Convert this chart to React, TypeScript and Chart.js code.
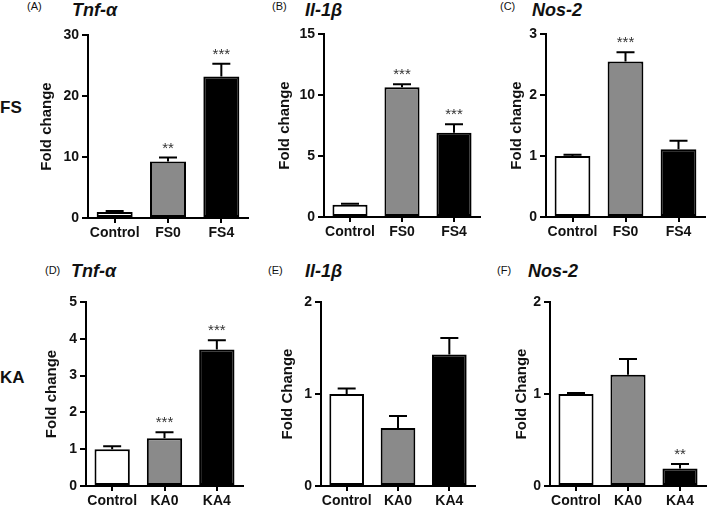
import React, { useEffect, useRef } from "react";
import { Chart, registerables } from "chart.js";

Chart.register(...registerables);

const FONT = '"Liberation Sans", Arial, Helvetica, sans-serif';

// ---- data ----
const fsGroups = ["Control", "FS0", "FS4"];
const kaGroups = ["Control", "KA0", "KA4"];

const tnfFS = [1.0, 9.25, 23.2];
const tnfFSSem = [0.15, 0.65, 2.1];
const tnfFSStars = ["", "**", "***"];

const il1bFS = [1.0, 10.63, 6.91];
const il1bFSSem = [0.08, 0.25, 0.7];
const il1bFSStars = ["", "***", "***"];

const nos2FS = [1.0, 2.55, 1.11];
const nos2FSSem = [0.02, 0.15, 0.14];
const nos2FSStars = ["", "***", ""];

const tnfKA = [1.0, 1.3, 3.71];
const tnfKASem = [0.08, 0.16, 0.25];
const tnfKAStars = ["", "***", "***"];

const il1bKA = [1.0, 0.63, 1.43];
const il1bKASem = [0.06, 0.13, 0.18];
const il1bKAStars = ["", "", ""];

const nos2KA = [1.0, 1.21, 0.19];
const nos2KASem = [0.01, 0.17, 0.05];
const nos2KAStars = ["", "", "**"];

const barColors = ["#ffffff", "#8a8a8a", "#000000"];

// ---- error bar + significance plugin ----
const errorBarPlugin = {
  id: "errorBars",
  afterDatasetsDraw(chart: any, _args: any, opts: any) {
    const { ctx } = chart;
    const y = chart.scales.y;
    const meta = chart.getDatasetMeta(0);
    const vals = chart.data.datasets[0].data as number[];
    const sem: number[] = opts.sem || [];
    const stars: string[] = opts.stars || [];
    ctx.save();
    meta.data.forEach((bar: any, i: number) => {
      const v = vals[i];
      const yTop = y.getPixelForValue(v);
      const yErr = y.getPixelForValue(v + (sem[i] || 0));
      ctx.strokeStyle = "#000";
      ctx.lineWidth = 2;
      ctx.beginPath();
      ctx.moveTo(bar.x, yTop);
      ctx.lineTo(bar.x, yErr);
      ctx.moveTo(bar.x - 9, yErr);
      ctx.lineTo(bar.x + 9, yErr);
      ctx.stroke();
      const s = stars[i];
      if (s) {
        ctx.fillStyle = "#333";
        ctx.font = `15px ${FONT}`;
        ctx.textAlign = "center";
        ctx.textBaseline = "alphabetic";
        ctx.fillText(s, bar.x, yErr - 5);
      }
    });
    ctx.restore();
  },
};

type PanelProps = {
  labels: string[];
  values: number[];
  sem: number[];
  stars: string[];
  yMax: number;
  step: number;
  yTitle: string;
  axisLeft: number;
  axisRight: number;
  plotTop: number;
  plotBottom: number;
  titleDist: number;
};

function Panel(p: PanelProps) {
  const ref = useRef<HTMLCanvasElement | null>(null);
  const yWidth = p.titleDist + 17;
  const canvasLeft = p.axisLeft - yWidth;
  const padRight = 7;
  const canvasWidth = p.axisRight - canvasLeft + padRight;
  const canvasTop = p.plotTop - 12;
  const xHeight = 32;
  const canvasHeight = p.plotBottom + xHeight - canvasTop;

  useEffect(() => {
    if (!ref.current) return;
    const chart = new Chart(ref.current, {
      type: "bar",
      data: {
        labels: p.labels,
        datasets: [
          {
            data: p.values,
            backgroundColor: barColors,
            borderColor: "#000",
            borderWidth: 2,
            borderSkipped: false,
            barPercentage: 0.675,
            categoryPercentage: 1,
          },
        ],
      },
      options: {
        responsive: false,
        animation: false,
        devicePixelRatio: 1,
        layout: { padding: { left: 0, top: p.plotTop - canvasTop, right: padRight, bottom: 0 } },
        plugins: {
          legend: { display: false },
          tooltip: { enabled: false },
          title: { display: false },
          errorBars: { sem: p.sem, stars: p.stars },
        } as any,
        scales: {
          x: {
            afterFit: (s: any) => {
              s.height = xHeight;
            },
            grid: {
              display: true,
              offset: false,
              drawOnChartArea: false,
              drawTicks: true,
              tickLength: 5,
              color: "#000",
              lineWidth: 2,
            },
            border: { display: true, color: "#000", width: 2 },
            ticks: {
              color: "#111",
              padding: 2,
              maxRotation: 0,
              autoSkip: false,
              font: { family: FONT, size: 14, weight: "bold" },
            },
          },
          y: {
            min: 0,
            max: p.yMax,
            afterFit: (s: any) => {
              s.width = yWidth;
            },
            grid: {
              display: true,
              drawOnChartArea: false,
              drawTicks: true,
              tickLength: 6,
              color: "#000",
              lineWidth: 2,
            },
            border: { display: true, color: "#000", width: 2 },
            ticks: {
              stepSize: p.step,
              color: "#111",
              padding: 3,
              font: { family: FONT, size: 14, weight: "bold" },
            },
            title: {
              display: true,
              text: p.yTitle,
              color: "#111",
              padding: { top: 8, bottom: 0 },
              font: { family: FONT, size: 15, weight: "bold" },
            },
          },
        },
      },
      plugins: [errorBarPlugin],
    } as any);
    return () => chart.destroy();
  }, []);

  return (
    <canvas
      ref={ref}
      width={canvasWidth}
      height={canvasHeight}
      style={{
        position: "absolute",
        left: canvasLeft,
        top: canvasTop,
        width: canvasWidth,
        height: canvasHeight,
      }}
    />
  );
}

const letterStyle = (left: number, top: number): React.CSSProperties => ({
  position: "absolute",
  left,
  top,
  fontFamily: FONT,
  fontSize: 11,
  lineHeight: "11px",
  color: "#111",
  whiteSpace: "nowrap",
});

const geneStyle = (left: number, top: number): React.CSSProperties => ({
  position: "absolute",
  left,
  top,
  fontFamily: FONT,
  fontSize: 18,
  fontWeight: "bold",
  fontStyle: "italic",
  lineHeight: "18px",
  color: "#111",
  whiteSpace: "nowrap",
});

const rowStyle = (left: number, top: number): React.CSSProperties => ({
  position: "absolute",
  left,
  top,
  fontFamily: FONT,
  fontSize: 17,
  fontWeight: "bold",
  lineHeight: "17px",
  color: "#111",
  whiteSpace: "nowrap",
});

export default function App() {
  return (
    <div
      style={{
        position: "absolute",
        left: 0,
        top: 0,
        width: 709,
        height: 505,
        background: "#fff",
        overflow: "hidden",
      }}
    >
      <div style={rowStyle(0, 99)}>FS</div>
      <div style={rowStyle(0, 369)}>KA</div>

      <div style={letterStyle(27, 1)}>(A)</div>
      <div style={geneStyle(72, 1)}>Tnf-α</div>
      <div style={letterStyle(272, 1)}>(B)</div>
      <div style={geneStyle(305, 1)}>Il-1β</div>
      <div style={letterStyle(500, 1)}>(C)</div>
      <div style={geneStyle(532, 1)}>Nos-2</div>

      <div style={letterStyle(45, 265)}>(D)</div>
      <div style={geneStyle(71, 262)}>Tnf-α</div>
      <div style={letterStyle(268, 265)}>(E)</div>
      <div style={geneStyle(305, 262)}>Il-1β</div>
      <div style={letterStyle(497, 265)}>(F)</div>
      <div style={geneStyle(528, 262)}>Nos-2</div>

      <Panel labels={fsGroups} values={tnfFS} sem={tnfFSSem} stars={tnfFSStars} yMax={30} step={10}
        yTitle="Fold change" axisLeft={88} axisRight={248} plotTop={35} plotBottom={218} titleDist={41} />
      <Panel labels={fsGroups} values={il1bFS} sem={il1bFSSem} stars={il1bFSStars} yMax={15} step={5}
        yTitle="Fold change" axisLeft={324} axisRight={480} plotTop={34} plotBottom={217} titleDist={39} />
      <Panel labels={fsGroups} values={nos2FS} sem={nos2FSSem} stars={nos2FSStars} yMax={3} step={1}
        yTitle="Fold change" axisLeft={546} axisRight={705} plotTop={34} plotBottom={217} titleDist={29} />

      <Panel labels={kaGroups} values={tnfKA} sem={tnfKASem} stars={tnfKAStars} yMax={5} step={1}
        yTitle="Fold change" axisLeft={86} axisRight={243} plotTop={302} plotBottom={486} titleDist={34} />
      <Panel labels={kaGroups} values={il1bKA} sem={il1bKASem} stars={il1bKAStars} yMax={2} step={1}
        yTitle="Fold Change" axisLeft={321} axisRight={475} plotTop={302} plotBottom={486} titleDist={33} />
      <Panel labels={kaGroups} values={nos2KA} sem={nos2KASem} stars={nos2KAStars} yMax={2} step={1}
        yTitle="Fold Change" axisLeft={550} axisRight={706} plotTop={302} plotBottom={486} titleDist={28} />
    </div>
  );
}
